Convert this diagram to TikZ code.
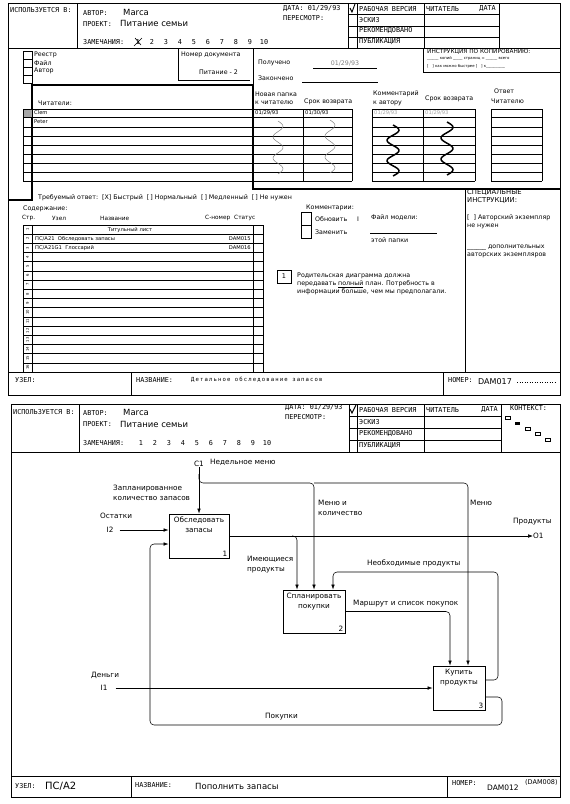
\documentclass[tikz,border=0pt]{standalone}
\usepackage{fontspec}
\setmainfont{DejaVu Sans}
\newfontfamily\formfont{DejaVu Sans Mono}
\newfontfamily\spacedfont[LetterSpace=20]{DejaVu Sans Mono}
\usepackage{tikz}
\usetikzlibrary{arrows.meta,calc}

\begin{document}
\begin{tikzpicture}[x=1pt,y=-1pt,
    every node/.style={inner sep=0pt,anchor=west},
    frame/.style={line width=0.6pt},
    heavy/.style={line width=1.4pt},
    form/.style={font=\formfont\fontsize{6.8}{7}\selectfont},
    bigtext/.style={font=\fontsize{8.5}{9}\selectfont},
    note/.style={font=\fontsize{6.3}{7.8}\selectfont,align=left},
    colhead/.style={font=\fontsize{5.8}{6}\selectfont},
    small/.style={font=\fontsize{5.2}{6}\selectfont},
    tiny/.style={font=\fontsize{3.8}{4.6}\selectfont},
    flow/.style={font=\fontsize{7.3}{10}\selectfont,align=left},
    func/.style={draw,line width=0.9pt,anchor=center},
    flowarr/.style={line width=0.55pt,rounded corners=4pt,-{Latex[length=5pt,width=3.6pt]}},
    link/.style={line width=0.55pt,rounded corners=4pt}]
\useasboundingbox (0,0) rectangle (570,804);

% first sheet
\draw[frame] (8,3) rectangle (560,395);
\draw[frame] (77,3) -- (77,48) (8,48) -- (560,48);
\node[form] (usea) at (10,10) {ИСПОЛЬЗУЕТСЯ В:};
\node[form] (auta) at (83,13) {АВТОР:};
\node[bigtext] (autb) at (123,12) {Marca};
\node[form] (prja) at (83,24) {ПРОЕКТ:};
\node[bigtext] (prjb) at (120,23) {Питание семьи};
\node[form] (rema) at (83,42) {ЗАМЕЧАНИЯ:};
\foreach \n in {1,...,10}
  \node[form,anchor=center] (remn\n) at ({124+14*\n},42) {\n};
\draw[line width=0.6pt] (134,46) -- (142,38) (135,38) -- (141,45);
\node[form] (data) at (283,9) {ДАТА: 01/29/93};
\node[form] (reva) at (283,18) {ПЕРЕСМОТР:};
\draw[frame] (348,3) -- (348,48) (357,3) -- (357,48) (424,3) -- (424,48) (499,3) -- (499,48);
\foreach \y in {14,26,37} \draw[frame] (348,\y) -- (499,\y);
\draw[line width=0.9pt] (350,8) -- (352,12) -- (355,4);
\node[form] (sta1) at (359,9) {РАБОЧАЯ ВЕРСИЯ};
\node[form] (sta2) at (359,20) {ЭСКИЗ};
\node[form] (sta3) at (359,31) {РЕКОМЕНДОВАНО};
\node[form] (sta4) at (359,42) {ПУБЛИКАЦИЯ};
\node[form] (rdra) at (426,9) {ЧИТАТЕЛЬ};
\node[form,anchor=east] (rdrb) at (496,9) {ДАТА};

\foreach \y in {51,59,67,75} \draw[frame] (23,\y) rectangle (32,\y+8);
\node[note] (chk1) at (34,55) {Реестр};
\node[note] (chk2) at (34,63) {Файл};
\node[note] (chk3) at (34,71) {Автор};
\draw[frame] (178,48) -- (178,80) -- (250,80);
\node[note] (docn) at (181,55) {Номер документа};
\node[note] (docv) at (199,72) {Питание - 2};
\draw[frame] (253,48) -- (253,85);
\node[note] (recv) at (258,63) {Получено};
\draw[frame] (313,68) -- (377,68);
\node[note,anchor=center,gray] (recd) at (345,63) {01/29/93};
\node[note] (done) at (258,78) {Закончено};
\draw[frame] (302,82) -- (378,82);
\draw[frame] (423,48) -- (423,72) -- (560,72);
\node[font=\fontsize{5.8}{6}\selectfont] (cpy1) at (427,52) {ИНСТРУКЦИЯ ПО КОПИРОВАНИЮ:};
\node[tiny] (cpy2) at (427,59) {\_\_\_\_\_\_ копий \_\_\_\_\_ страниц = \_\_\_\_\_\_ всего};
\node[tiny] (cpy3) at (427,66) {[\quad] как можно быстрее [\quad] к\_\_\_\_\_\_\_\_\_\_};

\draw[heavy] (8,200) -- (32,200) -- (32,85) -- (253,85) -- (253,189) -- (560,189);
\node[note] (rdrs) at (38,103) {Читатели:};
\fill[gray!70] (23,109) rectangle (32,117);
\foreach \y in {109,117,127,136,145,154,163,172,181} {
  \draw[frame] (23,\y) -- (352,\y);
  \draw[frame] (372,\y) -- (475,\y);
  \draw[frame] (491,\y) -- (542,\y);
}
\foreach \x in {23,303,352,372,423,475,491,542} \draw[frame] (\x,109) -- (\x,181);
\node[small] (rdr1) at (34,113) {Clem};
\node[small] (rdr2) at (34,122) {Peter};
\node[note] (tab1a) at (255,94) {Новая папка};
\node[note] (tab1b) at (255,103) {к читателю};
\node[note] (tab1c) at (304,102) {Срок возврата};
\node[note] (tab2a) at (373,94) {Комментарий};
\node[note] (tab2b) at (373,103) {к автору};
\node[note] (tab2c) at (425,99) {Срок возврата};
\node[note] (tab3a) at (494,91) {Ответ};
\node[note] (tab3b) at (491,101) {Читателю};
\node[small] (dt1) at (255,113) {01/29/93};
\node[small] (dt2) at (305,113) {01/30/93};
\node[small,gray!70] (dt3) at (374,113) {01/29/93};
\node[small,gray!70] (dt4) at (425,113) {01/29/93};
\draw[gray,line width=0.5pt] plot[domain=0:1,samples=40,smooth] ({278+5*sin(900*\x)},{121+53*\x});
\draw[gray,line width=0.5pt] plot[domain=0:1,samples=40,smooth] ({330+5*sin(900*\x)},{120+53*\x});
\draw[line width=1.5pt] plot[domain=0:1,samples=40,smooth] ({393+6*sin(900*\x)},{125+51*\x});
\draw[line width=1.5pt] plot[domain=0:1,samples=40,smooth] ({447+6*sin(900*\x)},{122+53*\x});

\node[note] (resp) at (38,198) {Требуемый ответ:\ \ [X] Быстрый\ \ [\,] Нормальный\ \ [\,] Медленный\ \ [\,] Не нужен};
\node[note] (cont) at (23,209) {Содержание:};
\node[colhead] (colp) at (22,218) {Стр.};
\node[colhead] (coln) at (52,218) {Узел};
\node[colhead] (colt) at (100,218) {Название};
\node[colhead] (colc) at (205,218) {С-номер};
\node[colhead] (cols) at (234,218) {Статус};
\foreach \k in {0,...,16} \draw[frame] (23,{225+9.1875*\k}) -- (263,{225+9.1875*\k});
\foreach \x in {23,32,253,263} \draw[frame] (\x,225) -- (\x,372);
\foreach \k in {1,...,16}
  \node[tiny,anchor=center,rotate=90] (pg\k) at (27.5,{225+9.1875*(\k-0.5)}) {\k};
\node[small,anchor=center] (row1) at (130,229.6) {Титульный лист};
\node[small] (row2) at (35,238.8) {ПС/А21\ \ Обследовать запасы};
\node[small,anchor=east] (row2c) at (251,238.8) {DAM015};
\node[small] (row3) at (35,248) {ПС/А21G1\ \ Глоссарий};
\node[small,anchor=east] (row3c) at (251,248) {DAM016};

\node[note] (cmt) at (306,208) {Комментарии:};
\draw[frame] (301,212) rectangle (311,225) (301,225) rectangle (311,238);
\node[note] (cmt1) at (315,219) {Обновить};
\node[note] (cmt2) at (315,232) {Заменить};
\node[note] (cmt3) at (357,219) {I};
\node[note] (mdl) at (371,218) {Файл модели:};
\draw[frame] (370,233) -- (437,233);
\node[note] (mdl2) at (371,240) {этой папки};
\node[draw,line width=1pt,minimum width=14pt,minimum height=13pt,anchor=center,font=\fontsize{6.5}{7}\selectfont] (nb1) at (284,276.5) {1};
\node[note] (nbt) at (297,284) {Родительская диаграмма должна\\передавать \underline{полный} план. Потребность в\\информации больше, чем мы предполагали.};
\draw[frame] (465,189) -- (465,372);
\node[note,font=\fontsize{6.8}{8}\selectfont] (spc) at (467,197) {СПЕЦИАЛЬНЫЕ\\ИНСТРУКЦИИ:};
\node[note] (spc1) at (467,222) {[\ \ ] Авторский экземпляр\\не нужен};
\node[note] (spc2) at (467,251) {\_\_\_\_\_\_ дополнительных\\авторских экземпляров};

\draw[frame] (8,372) -- (560,372) (131,372) -- (131,395) (443,372) -- (443,395);
\node[form] (nda) at (15,380) {УЗЕЛ:};
\node[form] (tta) at (136,380) {НАЗВАНИЕ:};
\node[font=\spacedfont\fontsize{5.6}{6}\selectfont] (ttb) at (191,380) {Детальное обследование запасов};
\node[form] (nma) at (448,380) {НОМЕР:};
\node[font=\fontsize{8}{8}\selectfont] (nmb) at (478,382) {DAM017};
\draw[dotted,line width=0.5pt] (517,382) -- (556,382);

% second sheet
\draw[frame] (11,404) rectangle (560,797);
\draw[frame] (79,404) -- (79,452) (11,452) -- (560,452);
\node[form] (useb) at (13,412) {ИСПОЛЬЗУЕТСЯ В:};
\node[form] (autc) at (83,413) {АВТОР:};
\node[bigtext] (autd) at (123,412) {Marca};
\node[form] (prjc) at (83,424) {ПРОЕКТ:};
\node[bigtext] (prjd) at (120,424) {Питание семьи};
\node[form] (remb) at (83,443) {ЗАМЕЧАНИЯ:};
\foreach \n in {1,...,10}
  \node[form,anchor=center] (remm\n) at ({127+14*\n},443) {\n};
\node[form] (datb) at (285,408) {ДАТА: 01/29/93};
\node[form] (revb) at (285,417) {ПЕРЕСМОТР:};
\draw[frame] (349,404) -- (349,452) (357,404) -- (357,452) (424,404) -- (424,452) (501,404) -- (501,452);
\foreach \y in {416,428,440} \draw[frame] (349,\y) -- (501,\y);
\draw[line width=1.1pt] (350,409) -- (352,413) -- (356,405);
\node[form] (stb1) at (359,410) {РАБОЧАЯ ВЕРСИЯ};
\node[form] (stb2) at (359,422) {ЭСКИЗ};
\node[form] (stb3) at (359,434) {РЕКОМЕНДОВАНО};
\node[form] (stb4) at (359,446) {ПУБЛИКАЦИЯ};
\node[form] (rdrc) at (426,410) {ЧИТАТЕЛЬ};
\node[form,anchor=east] (rdrd) at (498,410) {ДАТА};
\node[form] (ctx) at (510,408) {КОНТЕКСТ:};
\draw[line width=0.4pt] (505,416) rectangle (510,419.5) (525,427) rectangle (530,430.5)
  (535,432) rectangle (540,435.5) (545,438) rectangle (550,441.5);
\fill (515,421.5) rectangle (520,425);

\node[func,minimum width=60pt,minimum height=44pt] (b1) at (199,536) {};
\node[func,minimum width=62pt,minimum height=43pt] (b2) at (314,611.5) {};
\node[func,minimum width=52pt,minimum height=44pt] (b3) at (459,688) {};
\node[flow,anchor=north,align=center] (b1t) at ([yshift=-3pt]b1.north) {Обследовать\\запасы};
\node[flow,anchor=north,align=center] (b2t) at ([yshift=-3pt]b2.north) {Спланировать\\покупки};
\node[flow,anchor=north,align=center] (b3t) at ([yshift=-3pt]b3.north) {Купить\\продукты};
\node[flow,anchor=south east] (b1n) at ([shift={(-2pt,2pt)}]b1.south east) {1};
\node[flow,anchor=south east] (b2n) at ([shift={(-2pt,2pt)}]b2.south east) {2};
\node[flow,anchor=south east] (b3n) at ([shift={(-2pt,2pt)}]b3.south east) {3};

\node[flow,anchor=south] (c1) at (199,467) {C1};
\node[flow] (c1l) at (210,462) {Недельное меню};
\node[flow] (plan) at (113,493) {Запланированное\\количество запасов};
\node[flow] (ostl) at (100,516) {Остатки};
\node[flow,anchor=center] (i2) at (110,530) {I2};
\node[flow] (menq) at (318,508) {Меню и\\количество};
\node[flow] (menu) at (470,503) {Меню};
\node[flow] (prdl) at (513,522) {Продукты};
\node[flow] (o1) at (533,536) {O1};
\node[flow] (have) at (247,565) {Имеющиеся\\продукты};
\node[flow] (need) at (367,563) {Необходимые продукты};
\node[flow] (rout) at (353,604) {Маршрут и список покупок};
\node[flow] (monl) at (91,675) {Деньги};
\node[flow,anchor=center] (i1) at (104,688) {I1};
\node[flow] (buyl) at (265,717) {Покупки};

\coordinate (c1j) at (199,474);
\coordinate (mj) at (314,483);
\coordinate (oj) at (292,536);
\coordinate (np) at (498,572);
\coordinate (pk1) at (502,725);
\coordinate (pk2) at (150,725);
\draw[flowarr] (c1) -- (b1);
\draw[flowarr] (c1j) |- (mj) -- (b2.north);
\draw[flowarr] (mj) -| ([xshift=9pt]b3.north);
\draw[flowarr,shorten <=6pt] (i2.east) -- (i2.east -| b1.west);
\draw[flowarr] (b1.east) -- (o1.west);
\draw[flowarr] (oj) -| ([xshift=-17pt]b2.north);
\draw[flowarr] (b2.east) -| ([xshift=-9pt]b3.north);
\draw[flowarr] ([yshift=8pt]b3.east) -| (np) -| ([xshift=19pt]b2.north);
\draw[flowarr] ([yshift=-9pt]b3.east) -| (pk1) -- (pk2) |- ([yshift=-8pt]b1.west);
\draw[flowarr,shorten <=8pt] (i1.east) -- (i1.east -| b3.west);

\draw[frame] (11,776) -- (560,776) (131,776) -- (131,797) (447,776) -- (447,797);
\node[form] (ndb) at (15,786) {УЗЕЛ:};
\node[font=\fontsize{10}{10}\selectfont] (ndc) at (45,786) {ПС/А2};
\node[form] (ttc) at (135,785) {НАЗВАНИЕ:};
\node[bigtext] (ttd) at (195,786) {Пополнить запасы};
\node[form] (nmc) at (452,783) {НОМЕР:};
\node[font=\fontsize{7.5}{8}\selectfont] (nmd) at (487,788) {DAM012};
\node[font=\fontsize{6.5}{7}\selectfont] (nme) at (525,782) {(DAM008)};
\end{tikzpicture}
\end{document}
